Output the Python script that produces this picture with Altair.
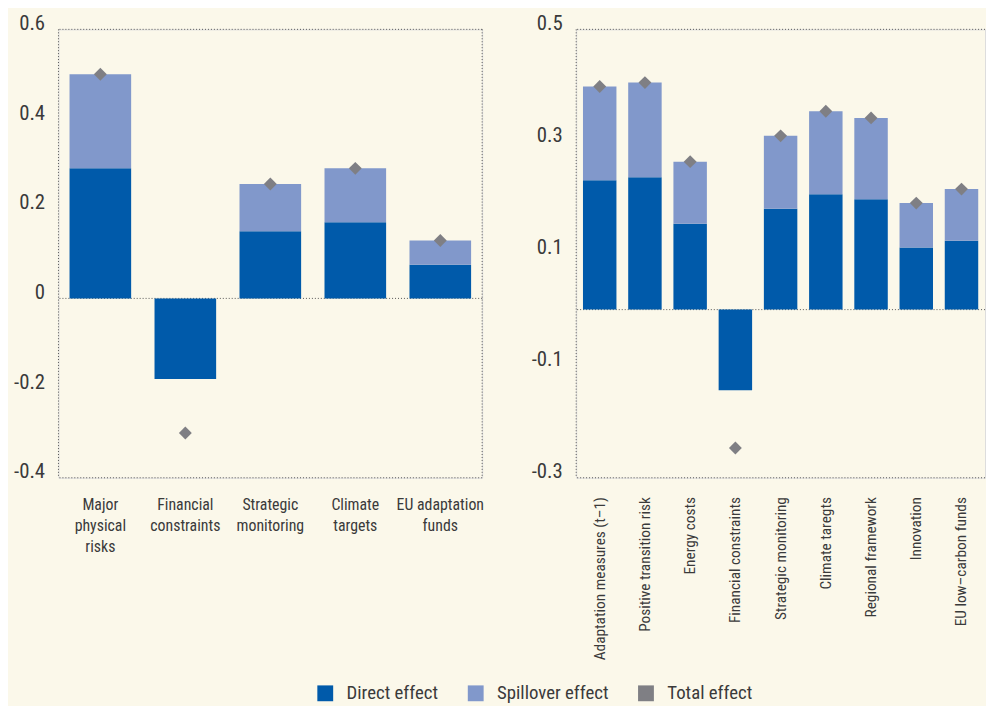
import altair as alt
import pandas as pd

# ---------------- data ----------------
cats_left = ["Major physical risks", "Financial constraints", "Strategic monitoring",
             "Climate targets", "EU adaptation funds"]
direct_left = [0.29, -0.18, 0.15, 0.17, 0.075]
spill_left = [0.21, None, 0.105, 0.12, 0.054]
total_left = [0.50, -0.30, 0.255, 0.29, 0.129]

cats_right = ["Adaptation measures (t–1)", "Positive transition risk", "Energy costs",
              "Financial constraints", "Strategic monitoring", "Climate taregts",
              "Regional framework", "Innovation", "EU low–carbon funds"]
direct_right = [0.231, 0.236, 0.153, -0.144, 0.180, 0.206, 0.197, 0.111, 0.123]
spill_right = [0.167, 0.169, 0.111, None, 0.130, 0.148, 0.145, 0.079, 0.092]
total_right = [0.398, 0.405, 0.264, -0.247, 0.310, 0.354, 0.342, 0.190, 0.215]

left_ticks = [-0.4, -0.2, 0, 0.2, 0.4, 0.6]
right_ticks = [-0.3, -0.1, 0.1, 0.3, 0.5]

series_names = ["Direct effect", "Spillover effect", "Total effect"]
series_colors = ["#005AAA", "#8198CB", "#7F7F84"]

FONT = "Roboto Condensed, Liberation Sans Narrow, Roboto, sans-serif"
TEXT = "#3A3A3A"
LINE = "#555555"
H = 453


def bar_frame(cats, direct, spill):
    rows = []
    for c, d, s in zip(cats, direct, spill):
        rows.append({"category": c, "series": "Direct effect", "lo": 0.0, "hi": d})
        if s is not None:
            rows.append({"category": c, "series": "Spillover effect", "lo": d, "hi": d + s})
    return pd.DataFrame(rows)


Y_LABEL = ("datum.value == 0 ? '0' : (datum.value < 0 ? '-' + format(-datum.value, '.1f') "
           ": format(datum.value, '.1f'))")


def panel(cats, direct, spill, total, domain, ticks, width, pad_in, pad_out,
          x_axis, right_border):
    bars = bar_frame(cats, direct, spill)
    pts = pd.DataFrame({"category": cats, "series": ["Total effect"] * len(cats),
                        "value": total})
    hlines = pd.DataFrame({"v": [domain[0], 0, domain[1]]})
    one = pd.DataFrame({"k": [0]})

    color = alt.Color(
        "series:N",
        scale=alt.Scale(domain=series_names, range=series_colors),
        legend=alt.Legend(
            title=None, orient="none", direction="horizontal",
            legendX=260, legendY=661, symbolType="square", symbolSize=256,
            symbolStrokeWidth=0, labelFontSize=19, labelFont=FONT,
            labelColor=TEXT, columnPadding=28, labelOffset=12,
        ),
    )
    x = alt.X("category:N", sort=cats, title=None,
              scale=alt.Scale(paddingInner=pad_in, paddingOuter=pad_out),
              axis=x_axis)
    yscale = alt.Scale(domain=domain, nice=False, zero=False)
    yaxis = alt.Axis(values=ticks, labelExpr=Y_LABEL, grid=False, domain=False,
                     ticks=False, labelBaseline="alphabetic", labelPadding=14,
                     labelFontSize=21, labelFont=FONT, labelColor=TEXT, title=None)

    rules_h = alt.Chart(hlines).mark_rule(color=LINE, strokeDash=[1, 2], strokeWidth=1).encode(
        y=alt.Y("v:Q", scale=yscale, axis=yaxis)
    )
    left_b = alt.Chart(one).mark_rule(color=LINE, strokeDash=[1, 2], strokeWidth=1).encode(
        x=alt.value(0), y=alt.value(0), y2=alt.value(H)
    )
    layers = [rules_h, left_b]
    if right_border:
        right_b = alt.Chart(one).mark_rule(color=LINE, strokeDash=[1, 2], strokeWidth=1).encode(
            x=alt.value(width), y=alt.value(0), y2=alt.value(H)
        )
        layers.append(right_b)

    bar_layer = alt.Chart(bars).mark_bar().encode(
        x=x, y=alt.Y("lo:Q", scale=yscale, axis=yaxis), y2="hi:Q", color=color
    )
    pt_layer = alt.Chart(pts).mark_point(shape="diamond", filled=True, size=170,
                                         opacity=1).encode(
        x=x, y=alt.Y("value:Q", scale=yscale, axis=yaxis), color=color
    )
    layers += [bar_layer, pt_layer]
    return alt.layer(*layers).properties(width=width, height=H)


left_axis = alt.Axis(
    labelAngle=0, domain=False, ticks=False, labelFont=FONT, labelFontSize=16,
    labelColor=TEXT, labelPadding=19, labelLineHeight=21, labelBaseline="top",
    labelExpr="datum.label == 'EU adaptation funds' ? ['EU adaptation', 'funds'] : split(datum.label, ' ')",
)
right_axis = alt.Axis(
    labelAngle=270, labelAlign="right", labelBaseline="middle", domain=False,
    ticks=False, labelFont=FONT, labelFontSize=15.5, labelColor=TEXT, labelPadding=19,
    labelLimit=400,
)

left = panel(cats_left, direct_left, spill_left, total_left, [-0.4, 0.6], left_ticks,
             428, 0.275, 0.13, left_axis, True)
right = panel(cats_right, direct_right, spill_right, total_right, [-0.3, 0.5], right_ticks,
              413, 0.26, 0.15, right_axis, False)

chart = alt.hconcat(left, right, spacing=47).properties(
    background="#FBF8EA",
    padding={"left": 5, "top": 0, "right": 0, "bottom": 0},
).configure_view(strokeWidth=0, stroke="transparent").configure(font=FONT)

chart.save("out.html", embed_options={"renderer": "svg", "actions": False})
